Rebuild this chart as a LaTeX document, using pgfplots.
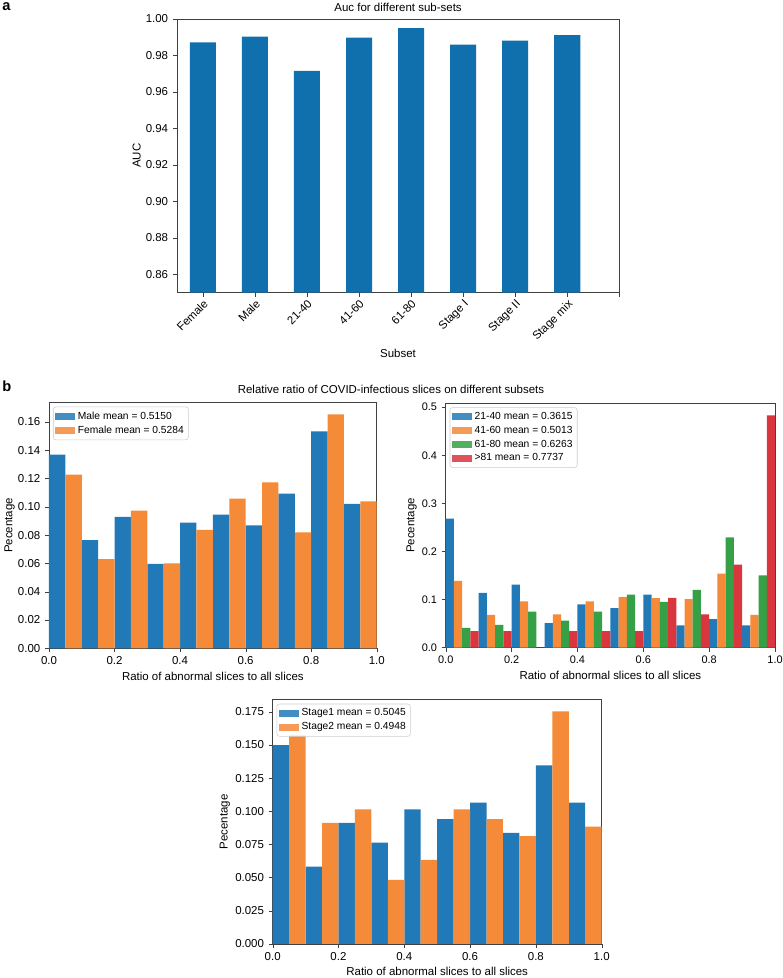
\documentclass[border=0pt]{standalone}
\usepackage{pgfplots}
\pgfplotsset{compat=1.18}
\usepackage{pgfplotstable}
\usepackage{fontspec}
\setmainfont{Liberation Sans}
\definecolor{topblue}{HTML}{1070AE}
\definecolor{cA}{HTML}{2179B8}
\definecolor{cB}{HTML}{F58B38}
\definecolor{cC}{HTML}{35A046}
\definecolor{cD}{HTML}{D9363E}
\newcommand{\fs}{\fontsize{8.6}{10}\selectfont}
\newcommand{\fl}{\fontsize{7.7}{9}\selectfont}

\pgfplotstableread{
x y
0 0.9872
1 0.9903
2 0.9716
3 0.9898
4 0.9950
5 0.9859
6 0.9881
7 0.9911
}\auc

\pgfplotstableread{
x y
0.025 0.1369
0.125 0.0764
0.225 0.0929
0.325 0.0597
0.425 0.0889
0.525 0.0946
0.625 0.0870
0.725 0.1094
0.825 0.1534
0.925 0.1021
}\male
\pgfplotstableread{
x y
0.075 0.1228
0.175 0.0630
0.275 0.0974
0.375 0.0600
0.475 0.0837
0.575 0.1059
0.675 0.1174
0.775 0.0819
0.875 0.1654
0.975 0.1038
}\female

\pgfplotstableread{
x y
0.0125 0.268
0.1125 0.114
0.2125 0.131
0.3125 0.051
0.4125 0.090
0.5125 0.082
0.6125 0.110
0.7125 0.046
0.8125 0.059
0.9125 0.046
}\ageA
\pgfplotstableread{
x y
0.0375 0.139
0.1375 0.068
0.2375 0.096
0.3375 0.069
0.4375 0.096
0.5375 0.105
0.6375 0.103
0.7375 0.101
0.8375 0.154
0.9375 0.068
}\ageB
\pgfplotstableread{
x y
0.0625 0.041
0.1625 0.047
0.2625 0.075
0.3625 0.056
0.4625 0.075
0.5625 0.110
0.6625 0.095
0.7625 0.120
0.8625 0.229
0.9625 0.150
}\ageC
\pgfplotstableread{
x y
0.0875 0.0345
0.1875 0.0345
0.2875 0.0
0.3875 0.0345
0.4875 0.0345
0.5875 0.0345
0.6875 0.1034
0.7875 0.0690
0.8875 0.1724
0.9875 0.4828
}\ageD

\pgfplotstableread{
x y
0.025 0.1498
0.125 0.0582
0.225 0.0913
0.325 0.0763
0.425 0.1015
0.525 0.0940
0.625 0.1065
0.725 0.0838
0.825 0.1345
0.925 0.1065
}\stageA
\pgfplotstableread{
x y
0.075 0.1575
0.175 0.0913
0.275 0.1015
0.375 0.0483
0.475 0.0633
0.575 0.1015
0.675 0.0940
0.775 0.0813
0.875 0.1753
0.975 0.0885
}\stageB

\pgfplotsset{
  mpl/.style={
    scale only axis,
    enlargelimits=false,
    axis line style={black!75},
    tick style={black!75},
    tick align=outside,
    major tick length=3pt,
    xtick pos=left, ytick pos=left,
    tick label style={font=\fs},
    label style={font=\fs},
    title style={font=\fs},
    ylabel style={yshift=-3pt},
    /pgf/number format/assume math mode=true,
    scaled y ticks=false, scaled x ticks=false,
    legend cell align=left,
    legend style={at={(0,1)}, anchor=north west, xshift=3pt, yshift=-3pt,
      draw=black!20, rounded corners=2pt, font=\fl, inner sep=1.5pt,
      row sep=-0.5pt, fill=white, fill opacity=0.85, text opacity=1},
    legend image code/.code={\fill[##1, sharp corners] (0pt,-2.6pt) rectangle (15pt,2.6pt);},
  },
  hbar/.style={ybar, bar width=#1, bar shift=0pt, draw=none},
}

\begin{document}
\begin{tikzpicture}
\path[use as bounding box] (0,0) rectangle (586.5pt,733.5pt);

\node[anchor=north west, inner sep=0pt, font=\fontsize{11}{12}\selectfont\bfseries] at (1.5pt,732pt) {a};
\node[anchor=north west, inner sep=0pt, font=\fontsize{11}{12}\selectfont\bfseries] at (1.5pt,448pt) {b};
\node[font=\fs] at (293.25pt,441.5pt) {Relative ratio of COVID-infectious slices on different subsets};

% top chart
\begin{axis}[mpl, at={(132.6pt,514pt)}, anchor=south west,
  width=331.9pt, height=205.3pt,
  xmin=-0.5, xmax=8, ymin=0.85, ymax=1.0,
  xtick={0,1,2,3,4,5,6,7,8},
  xticklabels={Female,Male,21-40,41-60,61-80,Stage I,Stage II,Stage mix,{}},
  xticklabel style={rotate=45, anchor=north east, inner sep=1pt},
  ytick={0.86,0.88,0.90,0.92,0.94,0.96,0.98,1.00},
  yticklabel style={/pgf/number format/.cd, fixed, fixed zerofill, precision=2},
  title={Auc for different sub-sets}, title style={yshift=-4pt},
  xlabel={Subset}, ylabel={AUC}]
\addplot[hbar=0.5, fill=topblue] table[x=x,y=y] {\auc};
\end{axis}

% middle left
\begin{axis}[mpl, at={(36.75pt,247.3pt)}, anchor=south west,
  width=245.8pt, height=184.2pt,
  xmin=0, xmax=1, ymin=0, ymax=0.1737,
  xtick={0,0.2,0.4,0.6,0.8,1.0},
  ytick={0,0.02,0.04,0.06,0.08,0.10,0.12,0.14,0.16},
  xticklabel style={/pgf/number format/.cd, fixed, fixed zerofill, precision=1},
  yticklabel style={/pgf/number format/.cd, fixed, fixed zerofill, precision=2},
  xlabel={Ratio of abnormal slices to all slices}, ylabel={Pecentage},
  xlabel style={yshift=1.5pt}, ylabel style={yshift=-1.5pt}]
\addplot[hbar=0.05, fill=cA] table[x=x,y=y] {\male};
\addplot[hbar=0.05, fill=cB] table[x=x,y=y] {\female};
\legend{Male mean = 0.5150, Female mean = 0.5284}
\end{axis}

% middle right
\begin{axis}[mpl, at={(334.3pt,247.8pt)}, anchor=south west,
  width=247pt, height=183.2pt,
  xmin=0, xmax=1, ymin=0, ymax=0.508,
  xtick={0,0.2,0.4,0.6,0.8,1.0},
  ytick={0,0.1,0.2,0.3,0.4,0.5},
  tick label style={font=\fontsize{8.2}{10}\selectfont},
  xticklabel style={/pgf/number format/.cd, fixed, fixed zerofill, precision=1},
  yticklabel style={/pgf/number format/.cd, fixed, fixed zerofill, precision=1},
  xlabel={Ratio of abnormal slices to all slices}, ylabel={Pecentage},
  xlabel style={yshift=1.5pt}]
\addplot[hbar=0.025, fill=cA] table[x=x,y=y] {\ageA};
\addplot[hbar=0.025, fill=cB] table[x=x,y=y] {\ageB};
\addplot[hbar=0.025, fill=cC] table[x=x,y=y] {\ageC};
\addplot[hbar=0.025, fill=cD] table[x=x,y=y] {\ageD};
\legend{21-40 mean = 0.3615, 41-60 mean = 0.5013, 61-80 mean = 0.6263, >81 mean = 0.7737}
\end{axis}

% bottom
\begin{axis}[mpl, at={(204.5pt,25.5pt)}, anchor=south west,
  width=246.75pt, height=183.2pt,
  xmin=0, xmax=1, ymin=0, ymax=0.184,
  xtick={0,0.2,0.4,0.6,0.8,1.0},
  ytick={0,0.025,0.05,0.075,0.1,0.125,0.15,0.175},
  xticklabel style={/pgf/number format/.cd, fixed, fixed zerofill, precision=1},
  yticklabel style={/pgf/number format/.cd, fixed, fixed zerofill, precision=3},
  xlabel={Ratio of abnormal slices to all slices}, ylabel={Pecentage},
  xlabel style={yshift=2pt}]
\addplot[hbar=0.05, fill=cA] table[x=x,y=y] {\stageA};
\addplot[hbar=0.05, fill=cB] table[x=x,y=y] {\stageB};
\legend{Stage1 mean = 0.5045, Stage2 mean = 0.4948}
\end{axis}
\end{tikzpicture}
\end{document}
